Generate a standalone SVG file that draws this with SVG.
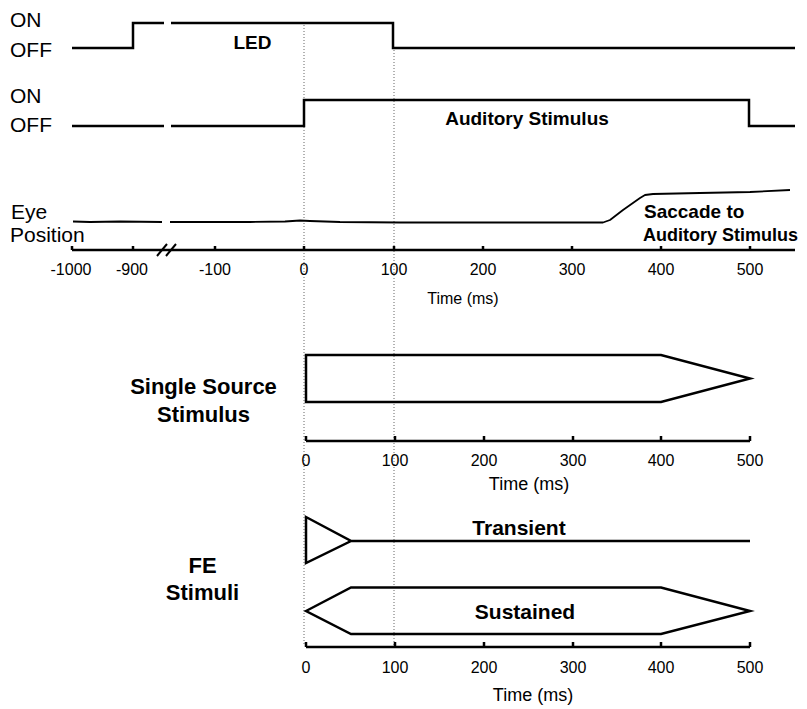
<svg xmlns="http://www.w3.org/2000/svg" width="807" height="709" viewBox="0 0 807 709">
<style>
.ln{fill:none;stroke:#000;stroke-width:2.5;stroke-linejoin:miter}
.tr{fill:none;stroke:#000;stroke-width:1.8;stroke-linejoin:round}
.dot{fill:none;stroke:#666;stroke-width:1;stroke-dasharray:1 2}
.lab{font-family:"Liberation Sans",Arial,sans-serif;font-size:21px;fill:#000}
.tk{font-family:"Liberation Sans",Arial,sans-serif;font-size:16px;fill:#000;text-anchor:middle}
.tm{font-family:"Liberation Sans",Arial,sans-serif;font-size:18px;fill:#000;text-anchor:middle}
.b{font-family:"Liberation Sans",Arial,sans-serif;font-weight:bold;fill:#000}
</style>
<rect width="807" height="709" fill="#fff"/>
<g id="guides">
<line class="dot" x1="304" y1="25" x2="304" y2="646"/>
<line class="dot" x1="394" y1="50" x2="394" y2="646"/>
</g>
<g id="led">
<text class="lab" x="10" y="27">ON</text>
<text class="lab" x="10" y="57">OFF</text>
<path class="ln" d="M72,48 H133 V23 H164 M171,23 H393 V48 H795"/>
<text class="b" x="252.5" y="49" font-size="19" text-anchor="middle">LED</text>
</g>
<g id="auditory">
<text class="lab" x="10" y="103">ON</text>
<text class="lab" x="10" y="132">OFF</text>
<path class="ln" d="M72,126 H164 M171,126 H304 V100 H749 V126 H795"/>
<text class="b" x="527" y="125" font-size="19" text-anchor="middle">Auditory Stimulus</text>
</g>
<g id="eye">
<text class="lab" x="11" y="219">Eye</text>
<text class="lab" x="10" y="242">Position</text>
<path class="tr" d="M73,221.5 L90,222 L120,221.5 L162,222 M170,222 L250,222 L285,221.5 L300,220.5 L310,221 L340,222 L400,222.5 L500,222.5 L560,222.5 L603,222.5 L610,220 L623,210 L640,198 L645,195 L653,194 L700,193 L750,192 L790,190"/>
<text class="b" x="644" y="218" font-size="19">Saccade to</text>
<text class="b" x="643" y="241" font-size="18">Auditory Stimulus</text>
</g>
<g id="axis-top">
<path class="ln" d="M72,250 H795 M72,250 V246 M133,250 V246 M215,250 V246 M304,250 V246 M394,250 V246 M483,250 V246 M572,250 V246 M661,250 V246 M750,250 V246"/>
<path fill="none" stroke="#000" stroke-width="2" d="M157,256 L167,244 M166,256 L176,244"/>
<text class="tk" x="71" y="275">-1000</text>
<text class="tk" x="132" y="275">-900</text>
<text class="tk" x="215" y="275">-100</text>
<text class="tk" x="304" y="275">0</text>
<text class="tk" x="394" y="275">100</text>
<text class="tk" x="483" y="275">200</text>
<text class="tk" x="572" y="275">300</text>
<text class="tk" x="661" y="275">400</text>
<text class="tk" x="750" y="275">500</text>
<text class="tk" x="463" y="303.5">Time (ms)</text>
</g>
<g id="single-source">
<text class="b" x="203.5" y="394" font-size="22" text-anchor="middle">Single Source</text>
<text class="b" x="203.5" y="421.5" font-size="22" text-anchor="middle">Stimulus</text>
<polygon class="ln" points="306,355 661,355 750,378.5 661,402 306,402"/>
<path class="ln" d="M306,441 H750 M306,441 V436 M395,441 V436 M484,441 V436 M573,441 V436 M661,441 V436 M750,441 V436"/>
<text class="tk" x="306" y="466">0</text>
<text class="tk" x="395" y="466">100</text>
<text class="tk" x="484" y="466">200</text>
<text class="tk" x="573" y="466">300</text>
<text class="tk" x="661" y="466">400</text>
<text class="tk" x="750" y="466">500</text>
<text class="tm" x="529" y="490">Time (ms)</text>
</g>
<g id="fe-stimuli">
<text class="b" x="202.5" y="573" font-size="22" text-anchor="middle">FE</text>
<text class="b" x="202.5" y="600" font-size="22" text-anchor="middle">Stimuli</text>
<path class="ln" d="M306,517 L351,541 L306,563 Z M351,541 H750"/>
<text class="b" x="519" y="535" font-size="21" text-anchor="middle">Transient</text>
<polygon class="ln" points="306,611 351,587.5 661,587.5 750,611 661,634 351,634"/>
<text class="b" x="525" y="619" font-size="21" text-anchor="middle">Sustained</text>
<path class="ln" d="M306,647 H750 M306,647 V642 M395,647 V642 M484,647 V642 M573,647 V642 M661,647 V642 M750,647 V642"/>
<text class="tk" x="306" y="673">0</text>
<text class="tk" x="395" y="673">100</text>
<text class="tk" x="484" y="673">200</text>
<text class="tk" x="573" y="673">300</text>
<text class="tk" x="661" y="673">400</text>
<text class="tk" x="750" y="673">500</text>
<text class="tm" x="533" y="701">Time (ms)</text>
</g>
</svg>
